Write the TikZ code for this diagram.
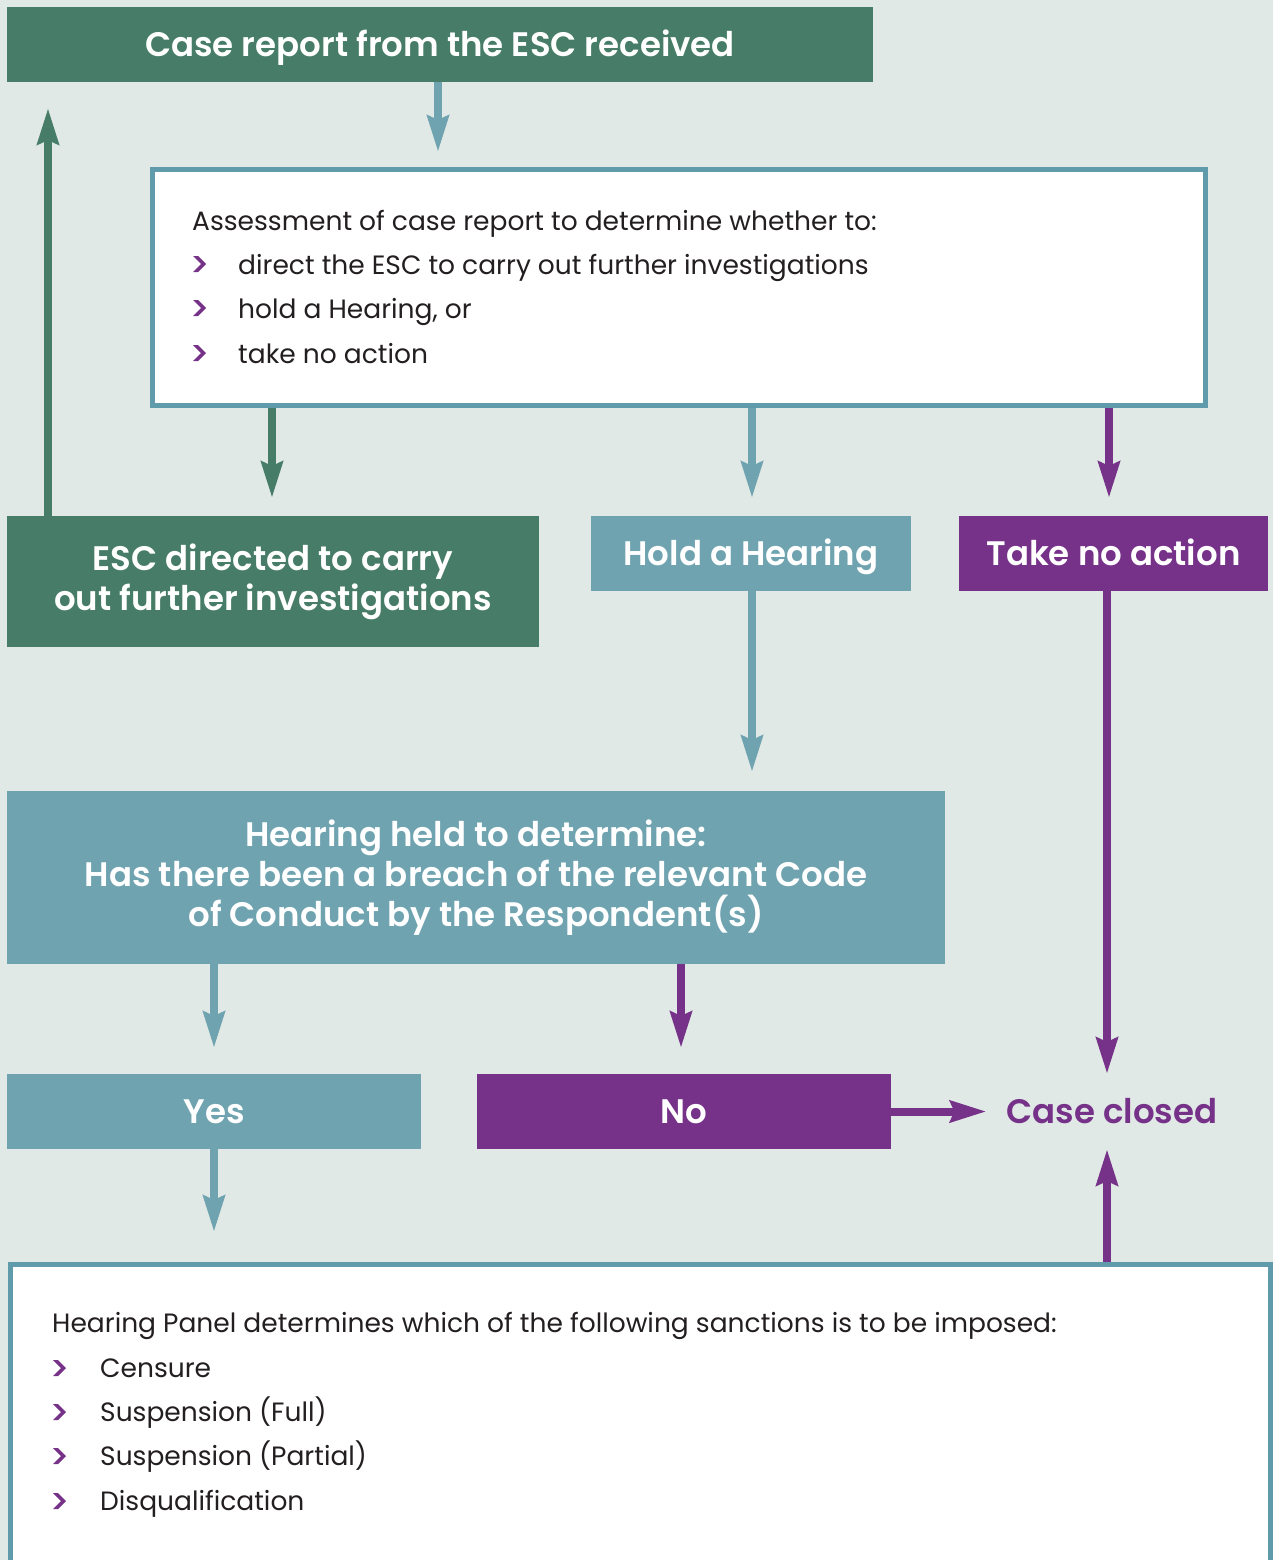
\documentclass[tikz,border=0pt]{standalone}
\usepackage{fontspec}
\setmainfont{Poppins}[BoldFont={Poppins SemiBold}]
\usetikzlibrary{arrows.meta}
\definecolor{bgc}{HTML}{E0E9E5}
\definecolor{grn}{HTML}{477D68}
\definecolor{tealc}{HTML}{6FA3B0}
\definecolor{bord}{HTML}{5F9BAA}
\definecolor{purp}{HTML}{763189}
\definecolor{ink}{HTML}{231F20}
\tikzset{
  box/.style={rectangle, inner sep=0pt, outer sep=0pt, text=white, align=center,
    font=\bfseries\fontsize{34}{40}\selectfont},
  oneline/.style={text height=24pt, text depth=0pt},
  greenbox/.style={box, fill=grn},
  tealbox/.style={box, fill=tealc},
  purplebox/.style={box, fill=purp},
  framebox/.style={rectangle, draw=bord, fill=white, line width=5pt, inner sep=0pt},
  arr/.style={line width=8pt, -{Stealth[length=36pt, width=21pt, inset=4pt]}},
  bodytext/.style={anchor=base west, inner sep=0pt, text=ink, font=\fontsize{26.5}{32}\selectfont},
  chev/.pic={\fill[purp] (0,0) -- (5,0) -- (13,8) -- (5,16) -- (0,16) -- (8,8) -- cycle;}
}
\begin{document}
\begin{tikzpicture}[x=1pt, y=-1pt]
\clip (0,0) rectangle (1273,1560);
\fill[bgc] (0,0) rectangle (1273,1560);

% top row
\node[greenbox, oneline, minimum width=866pt, minimum height=75pt] (title) at (440,44.5)
  {Case report from the ESC received};

% assessment frame and its list
\node[framebox, minimum width=1053pt, minimum height=236pt] (assess) at (679,287.5) {};
\node[bodytext] (a0) at (192,230) {Assessment of case report to determine whether to:};
\pic at (193,256) {chev};
\node[bodytext] (a1) at (238,274) {direct the ESC to carry out further investigations};
\pic at (193,300) {chev};
\node[bodytext] (a2) at (238,318) {hold a Hearing, or};
\pic at (193,345) {chev};
\node[bodytext] (a3) at (238,363) {take no action};

% three outcomes
\node[greenbox, minimum width=532pt, minimum height=131pt] (esc) at (273,581.5)
  {ESC directed to carry\\out further investigations};
\node[tealbox, oneline, minimum width=320pt, minimum height=75pt] (hold) at (751,553.5)
  {Hold a Hearing};
\node[purplebox, oneline, minimum width=309pt, minimum height=75pt] (noaction) at (1113.5,553.5)
  {Take no action};

% hearing
\node[tealbox, minimum width=938pt, minimum height=173pt] (held) at (476,877.5)
  {Hearing held to determine:\\Has there been a breach of the relevant Code\\of Conduct by the Respondent(s)};

% decision row
\node[tealbox, oneline, minimum width=414pt, minimum height=75pt] (yes) at (214,1111.5) {Yes};
\node[purplebox, oneline, minimum width=414pt, minimum height=75pt] (no) at (684,1111.5) {No};
\node[box, oneline, text=purp, minimum height=75pt] (closed) at (1112,1111.5) {Case closed};

% sanctions frame and its list
\node[framebox, minimum width=1260pt, minimum height=400pt, anchor=north west] (sanctions) at (8,1262) {};
\node[bodytext] (s0) at (52,1332) {Hearing Panel determines which of the following sanctions is to be imposed:};
\pic at (53,1360) {chev};
\node[bodytext] (s1) at (100,1377) {Censure};
\pic at (53,1404) {chev};
\node[bodytext] (s2) at (100,1421) {Suspension (Full)};
\pic at (53,1448) {chev};
\node[bodytext] (s3) at (100,1465) {Suspension (Partial)};
\pic at (53,1493) {chev};
\node[bodytext] (s4) at (100,1510) {Disqualification};

% connectors
\draw[arr, tealc] (438,0 |- title.south) -- (438,0 |- assess.north) [shorten >=15pt];
\draw[arr, grn] (48,0 |- esc.north) -- (48,108);
\draw[arr, grn] (272,0 |- assess.south) -- (272,0 |- esc.north) [shorten >=18pt];
\draw[arr, tealc] (752,0 |- assess.south) -- (752,0 |- hold.north) [shorten >=18pt];
\draw[arr, purp] (1109,0 |- assess.south) -- (1109,0 |- noaction.north) [shorten >=18pt];
\draw[arr, tealc] (752,0 |- hold.south) -- (752,0 |- held.north) [shorten >=19pt];
\draw[arr, purp] (1107,0 |- noaction.south) -- (1107,0 |- closed.north);
\draw[arr, tealc] (214,0 |- held.south) -- (214,0 |- yes.north) [shorten >=26pt];
\draw[arr, purp] (681,0 |- held.south) -- (681,0 |- no.north) [shorten >=26pt];
\draw[arr, purp] (no.east) -- (closed.west) [shorten >=20pt];
\draw[arr, tealc] (214,0 |- yes.south) -- (214,0 |- sanctions.north) [shorten >=30pt];
\draw[arr, purp] (1107,0 |- sanctions.north) -- (1107,0 |- closed.south);
\end{tikzpicture}
\end{document}
